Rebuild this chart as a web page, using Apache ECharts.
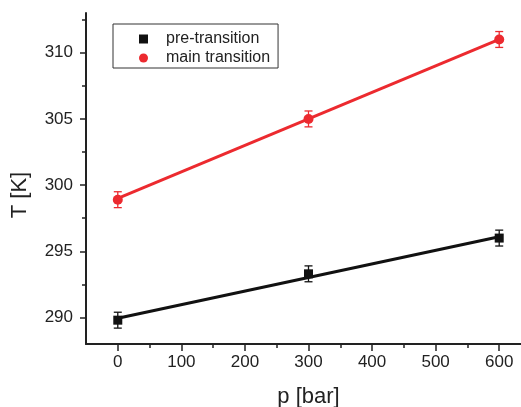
<!DOCTYPE html>
<html>
<head>
<meta charset="utf-8">
<script src="https://cdn.jsdelivr.net/npm/echarts@6/dist/echarts.min.js"></script>
<style>html,body{margin:0;padding:0;background:#fff;}#c{width:521px;height:407px;}</style>
</head>
<body>
<div id="c"></div>
<script>
// Data
var pressure = [0, 300, 600];
var preTransition = [289.8, 293.3, 296.0];
var preError = [0.6, 0.6, 0.6];
var mainTransition = [298.9, 305.0, 311.0];
var mainError = [0.6, 0.6, 0.6];
// linear fit lines (values at p = 0 and p = 600)
var fitX = [0, 600];
var preFit = [289.95, 296.1];
var mainFit = [299.0, 311.0];
// tick labels
var xTicks = [0, 100, 200, 300, 400, 500, 600];
var xMinor = [50, 150, 250, 350, 450, 550];
var yTicks = [290, 295, 300, 305, 310];
var yMinor = [292.5, 297.5, 302.5, 307.5, 312.5];

var RED = '#ec2a2f', BLACK = '#111111', AX = '#222222';
var FONT = '"Liberation Sans", Arial, sans-serif';

function pairs(xs, ys) { return xs.map(function (x, i) { return [x, ys[i]]; }); }
function errData(xs, ys, es) { return xs.map(function (x, i) { return [x, ys[i], es[i]]; }); }

function errRender(color) {
  return function (params, api) {
    var x = api.value(0), y = api.value(1), e = api.value(2);
    var hi = api.coord([x, y + e]), lo = api.coord([x, y - e]);
    var w = 4;
    var st = { stroke: color, lineWidth: 1.3 };
    return {
      type: 'group',
      children: [
        { type: 'line', shape: { x1: hi[0], y1: hi[1], x2: lo[0], y2: lo[1] }, style: st },
        { type: 'line', shape: { x1: hi[0] - w, y1: hi[1], x2: hi[0] + w, y2: hi[1] }, style: st },
        { type: 'line', shape: { x1: lo[0] - w, y1: lo[1], x2: lo[0] + w, y2: lo[1] }, style: st }
      ]
    };
  };
}

var chart = echarts.init(document.getElementById('c'), null, { renderer: 'canvas' });
chart.setOption({
  animation: false,
  backgroundColor: '#ffffff',
  textStyle: { fontFamily: FONT },
  grid: { left: 86, right: -10, top: 13, bottom: 63, containLabel: false, outerBoundsMode: 'none' },
  legend: {
    orient: 'vertical',
    left: 113, top: 24,
    padding: [7, 8, 2, 26],
    borderColor: '#333', borderWidth: 1,
    itemWidth: 9, itemHeight: 9, itemGap: 3,
    textStyle: { fontFamily: FONT, fontSize: 16, color: AX, lineHeight: 16, padding: [0, 0, 0, 13] },
    data: [
      { name: 'pre-transition', icon: 'rect', itemStyle: { opacity: 1 } },
      { name: 'main transition', icon: 'circle', itemStyle: { opacity: 1 } }
    ]
  },
  xAxis: [{
    type: 'value', min: -50, max: 650, gridIndex: 0,
    name: 'p [bar]', nameLocation: 'middle', nameGap: 42,
    nameTextStyle: { fontFamily: FONT, fontSize: 22, color: AX },
    splitLine: { show: false },
    axisLine: { show: true, onZero: false, lineStyle: { color: AX, width: 2 } },
    axisTick: { show: true, inside: false, length: 7, customValues: xTicks, lineStyle: { color: AX, width: 1.5 } },
    axisLabel: { customValues: xTicks, margin: 10, fontFamily: FONT, fontSize: 17, color: AX }
  }, {
    type: 'value', min: -50, max: 650, gridIndex: 0, position: 'bottom',
    splitLine: { show: false },
    axisLine: { show: false, onZero: false },
    axisTick: { show: true, inside: false, length: 4, customValues: xMinor, lineStyle: { color: AX, width: 1.5 } },
    axisLabel: { show: false }
  }],
  yAxis: [{
    type: 'value', min: 288, max: 313, gridIndex: 0, position: 'left',
    name: 'T [K]', nameLocation: 'middle', nameGap: 55, nameRotate: 90,
    nameTextStyle: { fontFamily: FONT, fontSize: 22, color: AX, padding: [0, 33, 0, 0] },
    splitLine: { show: false },
    axisLine: { show: true, onZero: false, lineStyle: { color: AX, width: 2 } },
    axisTick: { show: true, inside: false, length: 6, customValues: yTicks, lineStyle: { color: AX, width: 1.5 } },
    axisLabel: { customValues: yTicks, margin: 13, fontFamily: FONT, fontSize: 17, color: AX }
  }, {
    type: 'value', min: 288, max: 313, gridIndex: 0, position: 'left',
    splitLine: { show: false },
    axisLine: { show: false, onZero: false },
    axisTick: { show: true, inside: false, length: 4, customValues: yMinor, lineStyle: { color: AX, width: 1.5 } },
    axisLabel: { show: false }
  }],
  series: [
    { type: 'line', name: 'pre fit', data: pairs(fitX, preFit), showSymbol: false, symbol: 'none',
      lineStyle: { color: BLACK, width: 3 }, z: 2, silent: true },
    { type: 'line', name: 'main fit', data: pairs(fitX, mainFit), showSymbol: false, symbol: 'none',
      lineStyle: { color: RED, width: 3 }, z: 2, silent: true },
    { type: 'custom', name: 'pre err', data: errData(pressure, preTransition, preError),
      renderItem: errRender(BLACK), z: 3, silent: true },
    { type: 'custom', name: 'main err', data: errData(pressure, mainTransition, mainError),
      renderItem: errRender(RED), z: 3, silent: true },
    { type: 'scatter', name: 'pre-transition', data: pairs(pressure, preTransition), symbol: 'rect',
      symbolSize: 9, itemStyle: { color: BLACK, opacity: 1 }, z: 4 },
    { type: 'scatter', name: 'main transition', data: pairs(pressure, mainTransition), symbol: 'circle',
      symbolSize: 10, itemStyle: { color: RED, opacity: 1 }, z: 4 }
  ]
});
</script>
</body>
</html>
